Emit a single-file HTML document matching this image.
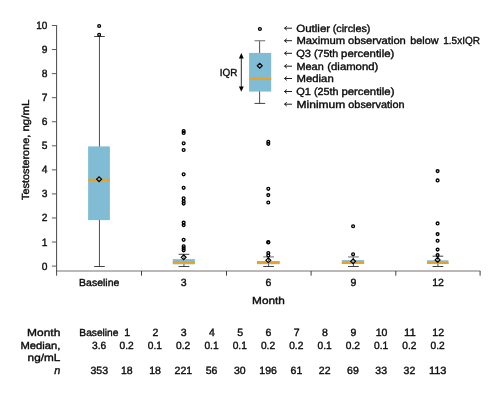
<!DOCTYPE html>
<html><head><meta charset="utf-8"><title>Testosterone box plot</title>
<style>html,body{margin:0;padding:0;background:#fff;}svg{display:block;will-change:transform;text-rendering:geometricPrecision;font-family:"Liberation Sans",sans-serif;}</style>
</head><body>
<svg width="499" height="398" viewBox="0 0 499 398">
<rect width="499" height="398" fill="#fff"/>
<line x1="56.6" y1="271" x2="480.3" y2="271" stroke="#a5a19f" stroke-width="1.6"/>
<line x1="141.5" y1="271" x2="141.5" y2="275.7" stroke="#2e2e2e" stroke-width="0.9"/>
<line x1="226.5" y1="271" x2="226.5" y2="275.7" stroke="#2e2e2e" stroke-width="0.9"/>
<line x1="311.1" y1="271" x2="311.1" y2="275.7" stroke="#2e2e2e" stroke-width="0.9"/>
<line x1="395.8" y1="271" x2="395.8" y2="275.7" stroke="#2e2e2e" stroke-width="0.9"/>
<line x1="480.1" y1="271" x2="480.1" y2="275.7" stroke="#2e2e2e" stroke-width="0.9"/>
<line x1="56.6" y1="25.10000000000003" x2="56.6" y2="275.7" stroke="#333" stroke-width="0.9"/>
<line x1="51.9" y1="266.10" x2="56.6" y2="266.10" stroke="#5a5a5a" stroke-width="1"/>
<text x="47.4" y="269.60" font-size="10.5" text-anchor="end" fill="#0c0c0c" stroke="#0c0c0c" stroke-width="0.38" textLength="5.7" lengthAdjust="spacingAndGlyphs">0</text>
<line x1="51.9" y1="242.04" x2="56.6" y2="242.04" stroke="#5a5a5a" stroke-width="1"/>
<text x="47.4" y="245.54" font-size="10.5" text-anchor="end" fill="#0c0c0c" stroke="#0c0c0c" stroke-width="0.38" textLength="5.7" lengthAdjust="spacingAndGlyphs">1</text>
<line x1="51.9" y1="217.98" x2="56.6" y2="217.98" stroke="#5a5a5a" stroke-width="1"/>
<text x="47.4" y="221.48" font-size="10.5" text-anchor="end" fill="#0c0c0c" stroke="#0c0c0c" stroke-width="0.38" textLength="5.7" lengthAdjust="spacingAndGlyphs">2</text>
<line x1="51.9" y1="193.92" x2="56.6" y2="193.92" stroke="#5a5a5a" stroke-width="1"/>
<text x="47.4" y="197.42" font-size="10.5" text-anchor="end" fill="#0c0c0c" stroke="#0c0c0c" stroke-width="0.38" textLength="5.7" lengthAdjust="spacingAndGlyphs">3</text>
<line x1="51.9" y1="169.86" x2="56.6" y2="169.86" stroke="#5a5a5a" stroke-width="1"/>
<text x="47.4" y="173.36" font-size="10.5" text-anchor="end" fill="#0c0c0c" stroke="#0c0c0c" stroke-width="0.38" textLength="5.7" lengthAdjust="spacingAndGlyphs">4</text>
<line x1="51.9" y1="145.80" x2="56.6" y2="145.80" stroke="#5a5a5a" stroke-width="1"/>
<text x="47.4" y="149.30" font-size="10.5" text-anchor="end" fill="#0c0c0c" stroke="#0c0c0c" stroke-width="0.38" textLength="5.7" lengthAdjust="spacingAndGlyphs">5</text>
<line x1="51.9" y1="121.74" x2="56.6" y2="121.74" stroke="#5a5a5a" stroke-width="1"/>
<text x="47.4" y="125.24" font-size="10.5" text-anchor="end" fill="#0c0c0c" stroke="#0c0c0c" stroke-width="0.38" textLength="5.7" lengthAdjust="spacingAndGlyphs">6</text>
<line x1="51.9" y1="97.68" x2="56.6" y2="97.68" stroke="#5a5a5a" stroke-width="1"/>
<text x="47.4" y="101.18" font-size="10.5" text-anchor="end" fill="#0c0c0c" stroke="#0c0c0c" stroke-width="0.38" textLength="5.7" lengthAdjust="spacingAndGlyphs">7</text>
<line x1="51.9" y1="73.62" x2="56.6" y2="73.62" stroke="#5a5a5a" stroke-width="1"/>
<text x="47.4" y="77.12" font-size="10.5" text-anchor="end" fill="#0c0c0c" stroke="#0c0c0c" stroke-width="0.38" textLength="5.7" lengthAdjust="spacingAndGlyphs">8</text>
<line x1="51.9" y1="49.56" x2="56.6" y2="49.56" stroke="#5a5a5a" stroke-width="1"/>
<text x="47.4" y="53.06" font-size="10.5" text-anchor="end" fill="#0c0c0c" stroke="#0c0c0c" stroke-width="0.38" textLength="5.7" lengthAdjust="spacingAndGlyphs">9</text>
<line x1="51.9" y1="25.50" x2="56.6" y2="25.50" stroke="#5a5a5a" stroke-width="1"/>
<text x="47.4" y="29.00" font-size="10.5" text-anchor="end" fill="#0c0c0c" stroke="#0c0c0c" stroke-width="0.38" textLength="11.1" lengthAdjust="spacingAndGlyphs">10</text>
<text transform="translate(28.6,200.0) rotate(-90)" font-size="10.3" fill="#0c0c0c" stroke="#0c0c0c" stroke-width="0.38" textLength="65.3" lengthAdjust="spacingAndGlyphs">Testosterone,</text>
<text transform="translate(28.6,131.5) rotate(-90)" font-size="10.3" fill="#0c0c0c" stroke="#0c0c0c" stroke-width="0.38" textLength="31.8" lengthAdjust="spacingAndGlyphs">ng/mL</text>
<line x1="99.45" y1="36.5" x2="99.45" y2="266.5" stroke="#2e2e2e" stroke-width="0.85"/>
<line x1="94.10000000000001" y1="36.5" x2="104.8" y2="36.5" stroke="#2e2e2e" stroke-width="0.9"/>
<line x1="94.10000000000001" y1="266.5" x2="104.8" y2="266.5" stroke="#2e2e2e" stroke-width="0.9"/>
<rect x="88.1" y="146.4" width="21.80" height="73.70" fill="#80bdd5"/>
<rect x="88.1" y="178.80" width="21.80" height="2.2" fill="#eba123"/>
<circle cx="99.15" cy="34.80" r="1.4" fill="none" stroke="#000" stroke-width="1.35"/>
<circle cx="99.15" cy="26.05" r="1.4" fill="none" stroke="#000" stroke-width="1.35"/>
<path d="M96.64999999999999,179.20 L99.1,176.75 L101.55,179.20 L99.1,181.65 Z" fill="none" stroke="#000" stroke-width="1.2"/>
<line x1="183.95" y1="254.3" x2="183.95" y2="266.5" stroke="#2e2e2e" stroke-width="0.85"/>
<line x1="178.6" y1="254.3" x2="189.29999999999998" y2="254.3" stroke="#2e2e2e" stroke-width="0.9"/>
<line x1="178.6" y1="266.5" x2="189.29999999999998" y2="266.5" stroke="#2e2e2e" stroke-width="0.9"/>
<rect x="172.8" y="259.1" width="22.10" height="5.20" fill="#80bdd5"/>
<rect x="172.8" y="261.30" width="22.10" height="2.3" fill="#eba123"/>
<circle cx="183.64999999999998" cy="131.00" r="1.4" fill="none" stroke="#000" stroke-width="1.35"/>
<circle cx="183.64999999999998" cy="132.90" r="1.4" fill="none" stroke="#000" stroke-width="1.35"/>
<circle cx="183.64999999999998" cy="143.30" r="1.4" fill="none" stroke="#000" stroke-width="1.35"/>
<circle cx="183.64999999999998" cy="150.00" r="1.4" fill="none" stroke="#000" stroke-width="1.35"/>
<circle cx="183.64999999999998" cy="174.30" r="1.4" fill="none" stroke="#000" stroke-width="1.35"/>
<circle cx="183.64999999999998" cy="187.80" r="1.4" fill="none" stroke="#000" stroke-width="1.35"/>
<circle cx="183.64999999999998" cy="198.30" r="1.4" fill="none" stroke="#000" stroke-width="1.35"/>
<circle cx="183.64999999999998" cy="201.30" r="1.4" fill="none" stroke="#000" stroke-width="1.35"/>
<circle cx="183.64999999999998" cy="203.60" r="1.4" fill="none" stroke="#000" stroke-width="1.35"/>
<circle cx="183.64999999999998" cy="222.60" r="1.4" fill="none" stroke="#000" stroke-width="1.35"/>
<circle cx="183.64999999999998" cy="225.10" r="1.4" fill="none" stroke="#000" stroke-width="1.35"/>
<circle cx="183.64999999999998" cy="239.80" r="1.4" fill="none" stroke="#000" stroke-width="1.35"/>
<circle cx="183.64999999999998" cy="246.30" r="1.4" fill="none" stroke="#000" stroke-width="1.35"/>
<circle cx="183.64999999999998" cy="248.30" r="1.4" fill="none" stroke="#000" stroke-width="1.35"/>
<circle cx="183.64999999999998" cy="250.30" r="1.4" fill="none" stroke="#000" stroke-width="1.35"/>
<path d="M181.2,257.30 L183.64999999999998,254.85 L186.09999999999997,257.30 L183.64999999999998,259.75 Z" fill="none" stroke="#000" stroke-width="1.2"/>
<line x1="268.6" y1="256.9" x2="268.6" y2="266.5" stroke="#2e2e2e" stroke-width="0.85"/>
<line x1="263.25" y1="256.9" x2="273.95000000000005" y2="256.9" stroke="#959595" stroke-width="1.4"/>
<line x1="263.25" y1="266.5" x2="273.95000000000005" y2="266.5" stroke="#2e2e2e" stroke-width="0.9"/>
<rect x="257.0" y="261.0" width="22.60" height="3.20" fill="#80bdd5"/>
<rect x="257.0" y="261.40" width="22.60" height="2.2" fill="#eba123"/>
<circle cx="268.3" cy="141.70" r="1.4" fill="none" stroke="#000" stroke-width="1.35"/>
<circle cx="268.3" cy="143.80" r="1.4" fill="none" stroke="#000" stroke-width="1.35"/>
<circle cx="268.3" cy="188.80" r="1.4" fill="none" stroke="#000" stroke-width="1.35"/>
<circle cx="268.3" cy="195.10" r="1.4" fill="none" stroke="#000" stroke-width="1.35"/>
<circle cx="268.3" cy="202.50" r="1.4" fill="none" stroke="#000" stroke-width="1.35"/>
<circle cx="268.3" cy="242.00" r="1.4" fill="none" stroke="#000" stroke-width="1.35"/>
<circle cx="268.3" cy="242.50" r="1.4" fill="none" stroke="#000" stroke-width="1.35"/>
<circle cx="268.3" cy="253.00" r="1.4" fill="none" stroke="#000" stroke-width="1.35"/>
<circle cx="268.3" cy="255.50" r="1.4" fill="none" stroke="#000" stroke-width="1.35"/>
<path d="M265.85,260.30 L268.3,257.85 L270.75,260.30 L268.3,262.75 Z" fill="none" stroke="#000" stroke-width="1.2"/>
<line x1="353.4" y1="256.9" x2="353.4" y2="266.5" stroke="#2e2e2e" stroke-width="0.85"/>
<line x1="348.04999999999995" y1="256.9" x2="358.75" y2="256.9" stroke="#959595" stroke-width="1.4"/>
<line x1="348.04999999999995" y1="266.5" x2="358.75" y2="266.5" stroke="#2e2e2e" stroke-width="0.9"/>
<rect x="341.8" y="260.1" width="22.30" height="3.90" fill="#80bdd5"/>
<rect x="341.8" y="261.90" width="22.30" height="2.0" fill="#eba123"/>
<circle cx="353.09999999999997" cy="226.20" r="1.4" fill="none" stroke="#000" stroke-width="1.35"/>
<circle cx="353.09999999999997" cy="254.30" r="1.4" fill="none" stroke="#000" stroke-width="1.35"/>
<path d="M350.65,261.30 L353.09999999999997,258.85 L355.54999999999995,261.30 L353.09999999999997,263.75 Z" fill="none" stroke="#000" stroke-width="1.2"/>
<line x1="437.9" y1="256.2" x2="437.9" y2="266.5" stroke="#2e2e2e" stroke-width="0.85"/>
<line x1="432.54999999999995" y1="256.2" x2="443.25" y2="256.2" stroke="#2e2e2e" stroke-width="0.9"/>
<line x1="432.54999999999995" y1="266.5" x2="443.25" y2="266.5" stroke="#2e2e2e" stroke-width="0.9"/>
<rect x="427.0" y="260.3" width="21.50" height="3.70" fill="#80bdd5"/>
<rect x="427.0" y="262.05" width="21.50" height="1.9" fill="#eba123"/>
<circle cx="437.59999999999997" cy="171.10" r="1.4" fill="none" stroke="#000" stroke-width="1.35"/>
<circle cx="437.59999999999997" cy="180.40" r="1.4" fill="none" stroke="#000" stroke-width="1.35"/>
<circle cx="437.59999999999997" cy="223.40" r="1.4" fill="none" stroke="#000" stroke-width="1.35"/>
<circle cx="437.59999999999997" cy="234.10" r="1.4" fill="none" stroke="#000" stroke-width="1.35"/>
<circle cx="437.59999999999997" cy="240.70" r="1.4" fill="none" stroke="#000" stroke-width="1.35"/>
<circle cx="437.59999999999997" cy="249.60" r="1.4" fill="none" stroke="#000" stroke-width="1.35"/>
<circle cx="437.59999999999997" cy="255.10" r="1.4" fill="none" stroke="#000" stroke-width="1.35"/>
<path d="M435.15,259.90 L437.59999999999997,257.45 L440.04999999999995,259.90 L437.59999999999997,262.35 Z" fill="none" stroke="#000" stroke-width="1.2"/>
<text x="99.2" y="285.7" font-size="10.2" text-anchor="middle" fill="#0c0c0c" stroke="#0c0c0c" stroke-width="0.38" textLength="40.2" lengthAdjust="spacingAndGlyphs">Baseline</text>
<text x="183.7" y="285.8" font-size="10.5" text-anchor="middle" fill="#0c0c0c" stroke="#0c0c0c" stroke-width="0.38" textLength="5.85" lengthAdjust="spacingAndGlyphs">3</text>
<text x="268.5" y="285.8" font-size="10.5" text-anchor="middle" fill="#0c0c0c" stroke="#0c0c0c" stroke-width="0.38" textLength="5.85" lengthAdjust="spacingAndGlyphs">6</text>
<text x="353.3" y="285.8" font-size="10.5" text-anchor="middle" fill="#0c0c0c" stroke="#0c0c0c" stroke-width="0.38" textLength="5.85" lengthAdjust="spacingAndGlyphs">9</text>
<text x="438.0" y="285.8" font-size="10.5" text-anchor="middle" fill="#0c0c0c" stroke="#0c0c0c" stroke-width="0.38" textLength="11.7" lengthAdjust="spacingAndGlyphs">12</text>
<text x="268.5" y="303.7" font-size="10.2" text-anchor="middle" fill="#0c0c0c" stroke="#0c0c0c" stroke-width="0.38" textLength="32.8" lengthAdjust="spacingAndGlyphs">Month</text>
<line x1="259.6" y1="40.7" x2="259.6" y2="103.5" stroke="#2e2e2e" stroke-width="0.85"/>
<line x1="254.5" y1="40.7" x2="265.2" y2="40.7" stroke="#8c8c8c" stroke-width="1.3"/>
<line x1="254.5" y1="103.4" x2="265.2" y2="103.4" stroke="#2e2e2e" stroke-width="0.9"/>
<rect x="249.1" y="52.9" width="22.1" height="38.7" fill="#80bdd5"/>
<rect x="249.1" y="77.8" width="22.1" height="2.0" fill="#eba123"/>
<circle cx="259.9" cy="29.00" r="1.4" fill="none" stroke="#000" stroke-width="1.35"/>
<path d="M257.3,65.70 L259.75,63.25 L262.2,65.70 L259.75,68.15 Z" fill="none" stroke="#000" stroke-width="1.2"/>
<line x1="241.3" y1="56" x2="241.3" y2="88" stroke="#111" stroke-width="0.9"/>
<path d="M241.3,53.1 L238.9,58.4 L243.70000000000002,58.4 Z" fill="#000"/>
<path d="M241.3,91.7 L238.9,86.4 L243.70000000000002,86.4 Z" fill="#000"/>
<text x="219.7" y="76.0" font-size="10.3" text-anchor="start" fill="#0c0c0c" stroke="#0c0c0c" stroke-width="0.38" textLength="17.7" lengthAdjust="spacingAndGlyphs">IQR</text>
<path d="M292,28.2 L284.6,28.2 M286.8,26.3 L284.5,28.2 L286.8,30.099999999999998" fill="none" stroke="#111" stroke-width="0.95"/>
<text x="296.2" y="31.5" font-size="10.3" text-anchor="start" fill="#0c0c0c" stroke="#0c0c0c" stroke-width="0.38" textLength="34.0" lengthAdjust="spacingAndGlyphs">Outlier</text>
<text x="332.7" y="31.5" font-size="10.3" text-anchor="start" fill="#0c0c0c" stroke="#0c0c0c" stroke-width="0.38" textLength="37.7" lengthAdjust="spacingAndGlyphs">(circles)</text>
<path d="M292,40.7 L284.6,40.7 M286.8,38.800000000000004 L284.5,40.7 L286.8,42.6" fill="none" stroke="#111" stroke-width="0.95"/>
<text x="296.5" y="44.0" font-size="10.3" text-anchor="start" fill="#0c0c0c" stroke="#0c0c0c" stroke-width="0.38" textLength="48.7" lengthAdjust="spacingAndGlyphs">Maximum</text>
<text x="348.1" y="44.0" font-size="10.3" text-anchor="start" fill="#0c0c0c" stroke="#0c0c0c" stroke-width="0.38" textLength="57.7" lengthAdjust="spacingAndGlyphs">observation</text>
<text x="410.3" y="44.0" font-size="10.3" text-anchor="start" fill="#0c0c0c" stroke="#0c0c0c" stroke-width="0.38" textLength="28.2" lengthAdjust="spacingAndGlyphs">below</text>
<text x="443.3" y="44.0" font-size="10.3" text-anchor="start" fill="#0c0c0c" stroke="#0c0c0c" stroke-width="0.38" textLength="36.6" lengthAdjust="spacingAndGlyphs">1.5xIQR</text>
<path d="M292,53.300000000000004 L284.6,53.300000000000004 M286.8,51.400000000000006 L284.5,53.300000000000004 L286.8,55.2" fill="none" stroke="#111" stroke-width="0.95"/>
<text x="296.2" y="56.6" font-size="10.3" text-anchor="start" fill="#0c0c0c" stroke="#0c0c0c" stroke-width="0.38" textLength="14.8" lengthAdjust="spacingAndGlyphs">Q3</text>
<text x="313.9" y="56.6" font-size="10.3" text-anchor="start" fill="#0c0c0c" stroke="#0c0c0c" stroke-width="0.38" textLength="24.4" lengthAdjust="spacingAndGlyphs">(75th</text>
<text x="341.1" y="56.6" font-size="10.3" text-anchor="start" fill="#0c0c0c" stroke="#0c0c0c" stroke-width="0.38" textLength="53.2" lengthAdjust="spacingAndGlyphs">percentile)</text>
<path d="M292,66.2 L284.6,66.2 M286.8,64.3 L284.5,66.2 L286.8,68.10000000000001" fill="none" stroke="#111" stroke-width="0.95"/>
<text x="296.5" y="69.5" font-size="10.3" text-anchor="start" fill="#0c0c0c" stroke="#0c0c0c" stroke-width="0.38" textLength="27.2" lengthAdjust="spacingAndGlyphs">Mean</text>
<text x="327.3" y="69.5" font-size="10.3" text-anchor="start" fill="#0c0c0c" stroke="#0c0c0c" stroke-width="0.38" textLength="51.0" lengthAdjust="spacingAndGlyphs">(diamond)</text>
<path d="M292,78.5 L284.6,78.5 M286.8,76.6 L284.5,78.5 L286.8,80.4" fill="none" stroke="#111" stroke-width="0.95"/>
<text x="296.5" y="81.8" font-size="10.3" text-anchor="start" fill="#0c0c0c" stroke="#0c0c0c" stroke-width="0.38" textLength="37.2" lengthAdjust="spacingAndGlyphs">Median</text>
<path d="M292,91.5 L284.6,91.5 M286.8,89.6 L284.5,91.5 L286.8,93.4" fill="none" stroke="#111" stroke-width="0.95"/>
<text x="296.2" y="94.8" font-size="10.3" text-anchor="start" fill="#0c0c0c" stroke="#0c0c0c" stroke-width="0.38" textLength="14.7" lengthAdjust="spacingAndGlyphs">Q1</text>
<text x="313.9" y="94.8" font-size="10.3" text-anchor="start" fill="#0c0c0c" stroke="#0c0c0c" stroke-width="0.38" textLength="24.6" lengthAdjust="spacingAndGlyphs">(25th</text>
<text x="341.4" y="94.8" font-size="10.3" text-anchor="start" fill="#0c0c0c" stroke="#0c0c0c" stroke-width="0.38" textLength="53.1" lengthAdjust="spacingAndGlyphs">percentile)</text>
<path d="M292,104.2 L284.6,104.2 M286.8,102.3 L284.5,104.2 L286.8,106.10000000000001" fill="none" stroke="#111" stroke-width="0.95"/>
<text x="296.5" y="107.5" font-size="10.3" text-anchor="start" fill="#0c0c0c" stroke="#0c0c0c" stroke-width="0.38" textLength="48.8" lengthAdjust="spacingAndGlyphs">Minimum</text>
<text x="348.3" y="107.5" font-size="10.3" text-anchor="start" fill="#0c0c0c" stroke="#0c0c0c" stroke-width="0.38" textLength="56.2" lengthAdjust="spacingAndGlyphs">observation</text>
<text x="60.3" y="335.6" font-size="10.2" text-anchor="end" fill="#0c0c0c" stroke="#0c0c0c" stroke-width="0.38" textLength="33.2" lengthAdjust="spacingAndGlyphs">Month</text>
<text x="60.3" y="348.5" font-size="10.2" text-anchor="end" fill="#0c0c0c" stroke="#0c0c0c" stroke-width="0.38" textLength="39.9" lengthAdjust="spacingAndGlyphs">Median,</text>
<text x="60.3" y="360.6" font-size="10.2" text-anchor="end" fill="#0c0c0c" stroke="#0c0c0c" stroke-width="0.38" textLength="32.7" lengthAdjust="spacingAndGlyphs">ng/mL</text>
<text x="60.3" y="373.8" font-size="10.9" text-anchor="end" fill="#0c0c0c" stroke="#0c0c0c" stroke-width="0.38" font-style="italic">n</text>
<text x="98.9" y="335.7" font-size="10.2" text-anchor="middle" fill="#0c0c0c" stroke="#0c0c0c" stroke-width="0.38" textLength="39.1" lengthAdjust="spacingAndGlyphs">Baseline</text>
<text x="99.2" y="348.8" font-size="10.5" text-anchor="middle" fill="#0c0c0c" stroke="#0c0c0c" stroke-width="0.38" textLength="14.2" lengthAdjust="spacingAndGlyphs">3.6</text>
<text x="99.30000000000001" y="373.8" font-size="10.5" text-anchor="middle" fill="#0c0c0c" stroke="#0c0c0c" stroke-width="0.38" textLength="17.55" lengthAdjust="spacingAndGlyphs">353</text>
<text x="127.17" y="335.8" font-size="10.5" text-anchor="middle" fill="#0c0c0c" stroke="#0c0c0c" stroke-width="0.38" textLength="5.85" lengthAdjust="spacingAndGlyphs">1</text>
<text x="126.67" y="348.8" font-size="10.5" text-anchor="middle" fill="#0c0c0c" stroke="#0c0c0c" stroke-width="0.38" textLength="14.2" lengthAdjust="spacingAndGlyphs">0.2</text>
<text x="126.77" y="373.8" font-size="10.5" text-anchor="middle" fill="#0c0c0c" stroke="#0c0c0c" stroke-width="0.38" textLength="11.7" lengthAdjust="spacingAndGlyphs">18</text>
<text x="155.44" y="335.8" font-size="10.5" text-anchor="middle" fill="#0c0c0c" stroke="#0c0c0c" stroke-width="0.38" textLength="5.85" lengthAdjust="spacingAndGlyphs">2</text>
<text x="154.94" y="348.8" font-size="10.5" text-anchor="middle" fill="#0c0c0c" stroke="#0c0c0c" stroke-width="0.38" textLength="14.2" lengthAdjust="spacingAndGlyphs">0.1</text>
<text x="155.04" y="373.8" font-size="10.5" text-anchor="middle" fill="#0c0c0c" stroke="#0c0c0c" stroke-width="0.38" textLength="11.7" lengthAdjust="spacingAndGlyphs">18</text>
<text x="183.71" y="335.8" font-size="10.5" text-anchor="middle" fill="#0c0c0c" stroke="#0c0c0c" stroke-width="0.38" textLength="5.85" lengthAdjust="spacingAndGlyphs">3</text>
<text x="183.21" y="348.8" font-size="10.5" text-anchor="middle" fill="#0c0c0c" stroke="#0c0c0c" stroke-width="0.38" textLength="14.2" lengthAdjust="spacingAndGlyphs">0.2</text>
<text x="183.31" y="373.8" font-size="10.5" text-anchor="middle" fill="#0c0c0c" stroke="#0c0c0c" stroke-width="0.38" textLength="17.55" lengthAdjust="spacingAndGlyphs">221</text>
<text x="211.98000000000002" y="335.8" font-size="10.5" text-anchor="middle" fill="#0c0c0c" stroke="#0c0c0c" stroke-width="0.38" textLength="5.85" lengthAdjust="spacingAndGlyphs">4</text>
<text x="211.48000000000002" y="348.8" font-size="10.5" text-anchor="middle" fill="#0c0c0c" stroke="#0c0c0c" stroke-width="0.38" textLength="14.2" lengthAdjust="spacingAndGlyphs">0.1</text>
<text x="211.58" y="373.8" font-size="10.5" text-anchor="middle" fill="#0c0c0c" stroke="#0c0c0c" stroke-width="0.38" textLength="11.7" lengthAdjust="spacingAndGlyphs">56</text>
<text x="240.25" y="335.8" font-size="10.5" text-anchor="middle" fill="#0c0c0c" stroke="#0c0c0c" stroke-width="0.38" textLength="5.85" lengthAdjust="spacingAndGlyphs">5</text>
<text x="239.75" y="348.8" font-size="10.5" text-anchor="middle" fill="#0c0c0c" stroke="#0c0c0c" stroke-width="0.38" textLength="14.2" lengthAdjust="spacingAndGlyphs">0.1</text>
<text x="239.85" y="373.8" font-size="10.5" text-anchor="middle" fill="#0c0c0c" stroke="#0c0c0c" stroke-width="0.38" textLength="11.7" lengthAdjust="spacingAndGlyphs">30</text>
<text x="268.52" y="335.8" font-size="10.5" text-anchor="middle" fill="#0c0c0c" stroke="#0c0c0c" stroke-width="0.38" textLength="5.85" lengthAdjust="spacingAndGlyphs">6</text>
<text x="268.02" y="348.8" font-size="10.5" text-anchor="middle" fill="#0c0c0c" stroke="#0c0c0c" stroke-width="0.38" textLength="14.2" lengthAdjust="spacingAndGlyphs">0.2</text>
<text x="268.12" y="373.8" font-size="10.5" text-anchor="middle" fill="#0c0c0c" stroke="#0c0c0c" stroke-width="0.38" textLength="17.55" lengthAdjust="spacingAndGlyphs">196</text>
<text x="296.78999999999996" y="335.8" font-size="10.5" text-anchor="middle" fill="#0c0c0c" stroke="#0c0c0c" stroke-width="0.38" textLength="5.85" lengthAdjust="spacingAndGlyphs">7</text>
<text x="296.28999999999996" y="348.8" font-size="10.5" text-anchor="middle" fill="#0c0c0c" stroke="#0c0c0c" stroke-width="0.38" textLength="14.2" lengthAdjust="spacingAndGlyphs">0.2</text>
<text x="296.39" y="373.8" font-size="10.5" text-anchor="middle" fill="#0c0c0c" stroke="#0c0c0c" stroke-width="0.38" textLength="11.7" lengthAdjust="spacingAndGlyphs">61</text>
<text x="325.06" y="335.8" font-size="10.5" text-anchor="middle" fill="#0c0c0c" stroke="#0c0c0c" stroke-width="0.38" textLength="5.85" lengthAdjust="spacingAndGlyphs">8</text>
<text x="324.56" y="348.8" font-size="10.5" text-anchor="middle" fill="#0c0c0c" stroke="#0c0c0c" stroke-width="0.38" textLength="14.2" lengthAdjust="spacingAndGlyphs">0.1</text>
<text x="324.66" y="373.8" font-size="10.5" text-anchor="middle" fill="#0c0c0c" stroke="#0c0c0c" stroke-width="0.38" textLength="11.7" lengthAdjust="spacingAndGlyphs">22</text>
<text x="353.33000000000004" y="335.8" font-size="10.5" text-anchor="middle" fill="#0c0c0c" stroke="#0c0c0c" stroke-width="0.38" textLength="5.85" lengthAdjust="spacingAndGlyphs">9</text>
<text x="352.83000000000004" y="348.8" font-size="10.5" text-anchor="middle" fill="#0c0c0c" stroke="#0c0c0c" stroke-width="0.38" textLength="14.2" lengthAdjust="spacingAndGlyphs">0.2</text>
<text x="352.93000000000006" y="373.8" font-size="10.5" text-anchor="middle" fill="#0c0c0c" stroke="#0c0c0c" stroke-width="0.38" textLength="11.7" lengthAdjust="spacingAndGlyphs">69</text>
<text x="381.6" y="335.8" font-size="10.5" text-anchor="middle" fill="#0c0c0c" stroke="#0c0c0c" stroke-width="0.38" textLength="11.7" lengthAdjust="spacingAndGlyphs">10</text>
<text x="381.1" y="348.8" font-size="10.5" text-anchor="middle" fill="#0c0c0c" stroke="#0c0c0c" stroke-width="0.38" textLength="14.2" lengthAdjust="spacingAndGlyphs">0.1</text>
<text x="381.20000000000005" y="373.8" font-size="10.5" text-anchor="middle" fill="#0c0c0c" stroke="#0c0c0c" stroke-width="0.38" textLength="11.7" lengthAdjust="spacingAndGlyphs">33</text>
<text x="409.87" y="335.8" font-size="10.5" text-anchor="middle" fill="#0c0c0c" stroke="#0c0c0c" stroke-width="0.38" textLength="11.7" lengthAdjust="spacingAndGlyphs">11</text>
<text x="409.37" y="348.8" font-size="10.5" text-anchor="middle" fill="#0c0c0c" stroke="#0c0c0c" stroke-width="0.38" textLength="14.2" lengthAdjust="spacingAndGlyphs">0.2</text>
<text x="409.47" y="373.8" font-size="10.5" text-anchor="middle" fill="#0c0c0c" stroke="#0c0c0c" stroke-width="0.38" textLength="11.7" lengthAdjust="spacingAndGlyphs">32</text>
<text x="438.14" y="335.8" font-size="10.5" text-anchor="middle" fill="#0c0c0c" stroke="#0c0c0c" stroke-width="0.38" textLength="11.7" lengthAdjust="spacingAndGlyphs">12</text>
<text x="437.64" y="348.8" font-size="10.5" text-anchor="middle" fill="#0c0c0c" stroke="#0c0c0c" stroke-width="0.38" textLength="14.2" lengthAdjust="spacingAndGlyphs">0.2</text>
<text x="437.74" y="373.8" font-size="10.5" text-anchor="middle" fill="#0c0c0c" stroke="#0c0c0c" stroke-width="0.38" textLength="17.55" lengthAdjust="spacingAndGlyphs">113</text>
</svg></body></html>
